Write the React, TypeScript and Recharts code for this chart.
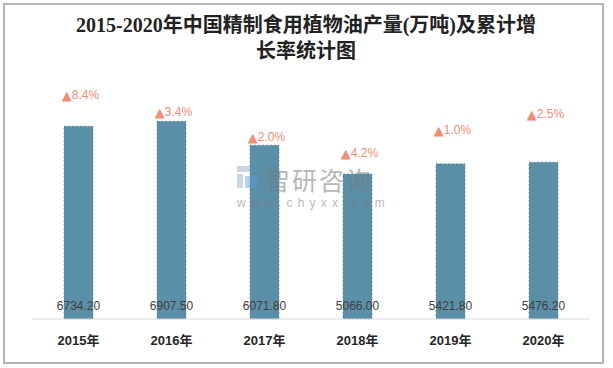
import React from 'react';
import { ComposedChart, Bar, Line, XAxis, YAxis, LabelList } from 'recharts';

const years = ['2015年', '2016年', '2017年', '2018年', '2019年', '2020年'];
const output = [6734.2, 6907.5, 6071.8, 5066.0, 5421.8, 5476.2];
const growth = ['8.4%', '3.4%', '2.0%', '4.2%', '1.0%', '2.5%'];
// height (in output units) at which each growth label sits in the picture
const growthLabelLevel = [7810, 7218, 6346, 5788, 6590, 7148];

const data = years.map((year, i) => ({
  year,
  output: output[i],
  growth: growth[i],
  level: growthLabelLevel[i],
}));

const BAR_COLOR = '#5b8fa7';
const GROWTH_COLOR = '#f08d73';

const ValueLabel = (props: any) => {
  const { x, y, width, height, value } = props;
  return (
    <text
      x={x + width / 2}
      y={y + height - 13}
      textAnchor="middle"
      dominantBaseline="central"
      fill="#404040"
      fontSize={12}
      fontFamily="'Liberation Sans', Arial, sans-serif"
    >
      {Number(value).toFixed(2)}
    </text>
  );
};

const GrowthLabel = (props: any) => {
  const { x, y, index } = props;
  return (
    <text
      x={x + 2}
      y={y}
      textAnchor="middle"
      dominantBaseline="central"
      fill={GROWTH_COLOR}
      fontSize={12}
      fontFamily="'Liberation Sans', sans-serif"
    >
      <tspan fontFamily="'DejaVu Sans', sans-serif" fontSize={13}>
        ▲
      </tspan>
      {growth[index]}
    </text>
  );
};

export default function App() {
  return (
    <div style={{ position: 'absolute', left: 0, top: 0, width: 613, height: 368, background: '#fff' }}>
      <div
        style={{
          position: 'absolute',
          left: 3,
          top: 3,
          width: 597,
          height: 357,
          border: '2px solid #b4b4b4',
        }}
      />
      <div
        style={{
          position: 'absolute',
          left: 0,
          top: 12,
          width: 612,
          textAlign: 'center',
          fontFamily: "'Liberation Serif', 'Noto Sans CJK SC', serif",
          fontWeight: 'bold',
          fontSize: 20,
          lineHeight: '26px',
          color: '#222',
        }}
      >
        2015-2020年中国精制食用植物油产量(万吨)及累计增
        <br />
        长率统计图
      </div>
      <div style={{ position: 'absolute', left: 0, top: 0 }}>
        <ComposedChart
          width={613}
          height={368}
          data={data}
          margin={{ top: 90, right: 23, bottom: 19, left: 32 }}
        >
          <XAxis
            dataKey="year"
            axisLine={{ stroke: '#d9d9d9', strokeWidth: 1 }}
            tickLine={false}
            tickSize={6}
            tickMargin={11}
            interval={0}
            tick={{
              fill: '#262626',
              fontSize: 13,
              fontWeight: 'bold',
              fontFamily: "'Liberation Sans', 'Noto Sans CJK SC', sans-serif",
            }}
          />
          <YAxis hide domain={[0, 8000]} />
          <Bar
            dataKey="output"
            fill={BAR_COLOR}
            stroke="#4d8099"
            strokeWidth={0.6}
            strokeDasharray="2 2"
            barSize={29}
            isAnimationActive={false}
          >
            <LabelList dataKey="output" content={ValueLabel} />
          </Bar>
          <Line
            dataKey="level"
            stroke="none"
            dot={false}
            activeDot={false}
            legendType="none"
            isAnimationActive={false}
          >
            <LabelList dataKey="growth" content={GrowthLabel} />
          </Line>
        </ComposedChart>
      </div>
      <div
        style={{
          position: 'absolute',
          left: 237,
          top: 166,
          width: 20,
          height: 22,
          opacity: 0.45,
        }}
      >
        <div style={{ position: 'absolute', left: 0, top: 0, width: 13, height: 6, background: '#8ea3c3' }} />
        <div style={{ position: 'absolute', left: 0, top: 8, width: 6, height: 14, background: '#8ea3c3' }} />
        <div style={{ position: 'absolute', left: 8, top: 10, width: 12, height: 12, background: '#5aa0d8' }} />
      </div>
      <div
        style={{
          position: 'absolute',
          left: 265,
          top: 167,
          height: 24,
          fontSize: 25,
          lineHeight: '24px',
          fontFamily: "'Noto Sans CJK SC', sans-serif",
          color: 'rgba(120,120,120,0.55)',
          letterSpacing: 2,
        }}
      >
        智研咨询
      </div>
      <div
        style={{
          position: 'absolute',
          left: 237,
          top: 198,
          fontSize: 12,
          lineHeight: '11px',
          fontFamily: "'Liberation Sans', sans-serif",
          color: 'rgba(120,120,120,0.55)',
          letterSpacing: 5.2,
        }}
      >
        www.chyxx.com
      </div>
    </div>
  );
}
